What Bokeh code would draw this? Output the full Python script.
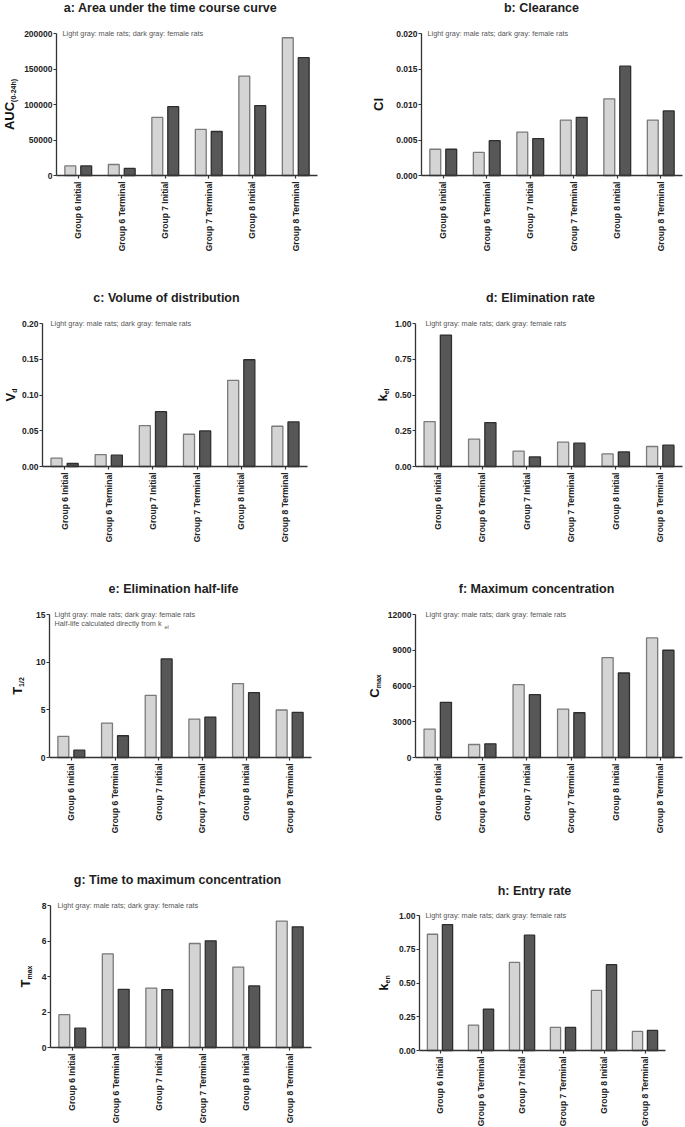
from bokeh.plotting import figure
from bokeh.models import ColumnDataSource, Range1d, FixedTicker, NumeralTickFormatter, Label
from bokeh.layouts import column, row
from bokeh.embed import file_html
from bokeh.resources import INLINE

categories = ["Group 6 Initial", "Group 6 Terminal", "Group 7 Initial",
              "Group 7 Terminal", "Group 8 Initial", "Group 8 Terminal"]

auc_male = [13500, 15500, 82000, 65000, 140000, 194000]
auc_female = [13500, 10000, 97000, 62000, 98500, 166000]
cl_male = [0.0037, 0.00325, 0.0061, 0.0078, 0.0108, 0.0078]
cl_female = [0.0037, 0.0049, 0.0052, 0.0082, 0.0154, 0.0091]
vd_male = [0.0116, 0.0167, 0.0572, 0.0451, 0.1205, 0.0563]
vd_female = [0.0042, 0.0158, 0.0767, 0.0498, 0.1493, 0.0623]
kel_male = [0.314, 0.191, 0.107, 0.170, 0.088, 0.140]
kel_female = [0.919, 0.307, 0.067, 0.163, 0.102, 0.149]
thalf_male = [2.21, 3.61, 6.52, 4.03, 7.75, 4.98]
thalf_female = [0.77, 2.28, 10.34, 4.24, 6.80, 4.73]
cmax_male = [2383, 1093, 6112, 4065, 8383, 10037]
cmax_female = [4626, 1150, 5271, 3757, 7093, 9000]
tmax_male = [1.85, 5.28, 3.35, 5.86, 4.53, 7.12]
tmax_female = [1.09, 3.28, 3.26, 6.01, 3.47, 6.80]
ken_male = [0.861, 0.188, 0.653, 0.171, 0.446, 0.141]
ken_female = [0.933, 0.307, 0.854, 0.171, 0.636, 0.149]

auc_ticks = [0, 50000, 100000, 150000, 200000]
cl_ticks = [0.0, 0.005, 0.010, 0.015, 0.020]
vd_ticks = [0.0, 0.05, 0.10, 0.15, 0.20]
kel_ticks = [0.0, 0.25, 0.50, 0.75, 1.00]
thalf_ticks = [0, 5, 10, 15]
cmax_ticks = [0, 3000, 6000, 9000, 12000]
tmax_ticks = [0, 2, 4, 6, 8]
ken_ticks = [0.0, 0.25, 0.50, 0.75, 1.00]

note = "Light gray: male rats; dark gray: female rats"
FONT = "Liberation Sans"
LIGHT_FILL, LIGHT_LINE = "#d4d4d4", "#7a7a7a"
DARK_FILL, DARK_LINE = "#575757", "#2e2e2e"
N = len(categories)


def panel(title, male, female, ticks, fmt, ymain, ysub,
          ox, oy, w, h, xl, xr, y0, yt,
          title_dx, title_up, ylab_dx, junction, note_dx, extra=False):
    top = ticks[-1]
    # pixel geometry -> data ranges (frame spans the whole canvas)
    ppx = (xr - xl) / N
    ppy = (y0 - yt) / top
    x_start = -(xl - ox) / ppx
    x_end = N + (ox + w - xr) / ppx
    y_start = -(oy + h - y0) / ppy
    y_end = top + (yt - oy) / ppy

    centers = [i + 0.5 for i in range(N)]
    src = ColumnDataSource(dict(
        xm=[c - 0.183 for c in centers], xf=[c + 0.183 for c in centers],
        male=male, female=female))
    p = figure(x_range=Range1d(x_start, x_end), y_range=Range1d(y_start, y_end),
               width=w, height=h, output_backend="svg", toolbar_location=None,
               min_border=0)
    p.outline_line_color = None
    p.xgrid.grid_line_color = None
    p.ygrid.grid_line_color = None
    p.background_fill_color = "white"
    p.border_fill_color = "white"

    p.vbar(x="xm", top="male", width=0.25, source=src,
           fill_color=LIGHT_FILL, line_color=LIGHT_LINE, line_width=1.3)
    p.vbar(x="xf", top="female", width=0.25, source=src,
           fill_color=DARK_FILL, line_color=DARK_LINE, line_width=1.3)

    xa, ya = p.xaxis[0], p.yaxis[0]
    for ax in (xa, ya):
        ax.fixed_location = 0
        ax.axis_line_color = "#333333"
        ax.axis_line_width = 1.3
        ax.major_tick_line_color = "#333333"
        ax.major_tick_line_width = 1.2
        ax.major_tick_in = 0
        ax.major_tick_out = 3
        ax.minor_tick_line_color = None
        ax.major_label_text_font = FONT
        ax.major_label_text_font_style = "bold"
        ax.major_label_text_font_size = "8.5px"
        ax.major_label_text_color = "#222222"
    ya.bounds = (0, top)
    ya.ticker = FixedTicker(ticks=ticks)
    ya.formatter = NumeralTickFormatter(format=fmt)
    ya.major_label_standoff = 1
    xa.bounds = (0, N)
    xa.ticker = FixedTicker(ticks=centers)
    xa.major_label_overrides = {c: lab for c, lab in zip(centers, categories)}
    xa.major_label_orientation = 1.5707963267948966
    xa.major_label_standoff = 3

    # title
    p.add_layout(Label(x=0, y=top, x_offset=title_dx, y_offset=title_up,
                       text=title, text_font=FONT, text_font_style="bold",
                       text_font_size="12.5px", text_color="#1e1e1e",
                       text_align="center", text_baseline="middle"))
    # note
    p.add_layout(Label(x=0, y=top, x_offset=note_dx, y_offset=0, text=note,
                       text_font=FONT, text_font_size="7.3px", text_color="#555555",
                       text_align="left", text_baseline="middle"))
    if extra:
        p.add_layout(Label(x=0, y=top, x_offset=note_dx, y_offset=-9,
                           text="Half-life calculated directly from k",
                           text_font=FONT, text_font_size="7.3px", text_color="#555555",
                           text_align="left", text_baseline="middle"))
        p.add_layout(Label(x=0, y=top, x_offset=note_dx + 110, y_offset=-12,
                           text="el", text_font=FONT, text_font_size="5.5px",
                           text_color="#555555", text_align="left", text_baseline="middle"))
    # y label (rotated, with subscript)
    if ysub:
        p.add_layout(Label(x=0, y=top / 2, x_offset=ylab_dx, y_offset=junction,
                           text=ymain, angle=1.5707963, text_font=FONT,
                           text_font_style="bold", text_font_size="13px",
                           text_color="#111111", text_align="right", text_baseline="middle"))
        p.add_layout(Label(x=0, y=top / 2, x_offset=ylab_dx + 4, y_offset=junction,
                           text=ysub, angle=1.5707963, text_font=FONT,
                           text_font_style="bold", text_font_size="7px",
                           text_color="#111111", text_align="left", text_baseline="middle"))
    else:
        p.add_layout(Label(x=0, y=top / 2, x_offset=ylab_dx, y_offset=0,
                           text=ymain, angle=1.5707963, text_font=FONT,
                           text_font_style="bold", text_font_size="13px",
                           text_color="#111111", text_align="center", text_baseline="middle"))
    return p


LW, RW = 343, 341
H1, H2, H3, H4 = 280, 280, 290, 276

pa = panel("a: Area under the time course curve", auc_male, auc_female, auc_ticks, "0",
           "AUC", "(0-24h)", 0, 0, LW, H1, 56, 317, 175, 33,
           114, 26, -47, 2.6, 6)
pb = panel("b: Clearance", cl_male, cl_female, cl_ticks, "0.000",
           "Cl", None, 343, 0, RW, H1, 421, 682, 175, 33,
           120, 26, -43, 0, 6)
pc = panel("c: Volume of distribution", vd_male, vd_female, vd_ticks, "0.00",
           "V", "d", 0, 280, LW, H2, 42, 307, 466, 323,
           124, 26, -32, 2.2, 8)
pd_ = panel("d: Elimination rate", kel_male, kel_female, kel_ticks, "0.00",
            "k", "el", 343, 280, RW, H2, 415, 682, 466, 323,
            125, 26, -33, 0.7, 10)
pe = panel("e: Elimination half-life", thalf_male, thalf_female, thalf_ticks, "0",
           "T", "1/2", 0, 560, LW, H3, 49, 311, 757, 614,
           124, 26, -32, -0.9, 5, extra=True)
pf = panel("f: Maximum concentration", cmax_male, cmax_female, cmax_ticks, "0",
           "C", "max", 343, 560, RW, H3, 415, 682, 757, 614,
           121, 26, -41, -2.3, 10)
pg = panel("g: Time to maximum concentration", tmax_male, tmax_female, tmax_ticks, "0",
           "T", "max", 0, 850, LW, H4, 50, 311, 1047, 905,
           127, 26, -25, -3, 7)
ph = panel("h: Entry rate", ken_male, ken_female, ken_ticks, "0.00",
           "k", "en", 343, 850, RW, H4, 419, 665, 1050, 915,
           115, 25, -36, -0.5, 6)

layout = column(row(pa, pb), row(pc, pd_), row(pe, pf), row(pg, ph))
open("out.html", "w").write(file_html(layout, INLINE))
